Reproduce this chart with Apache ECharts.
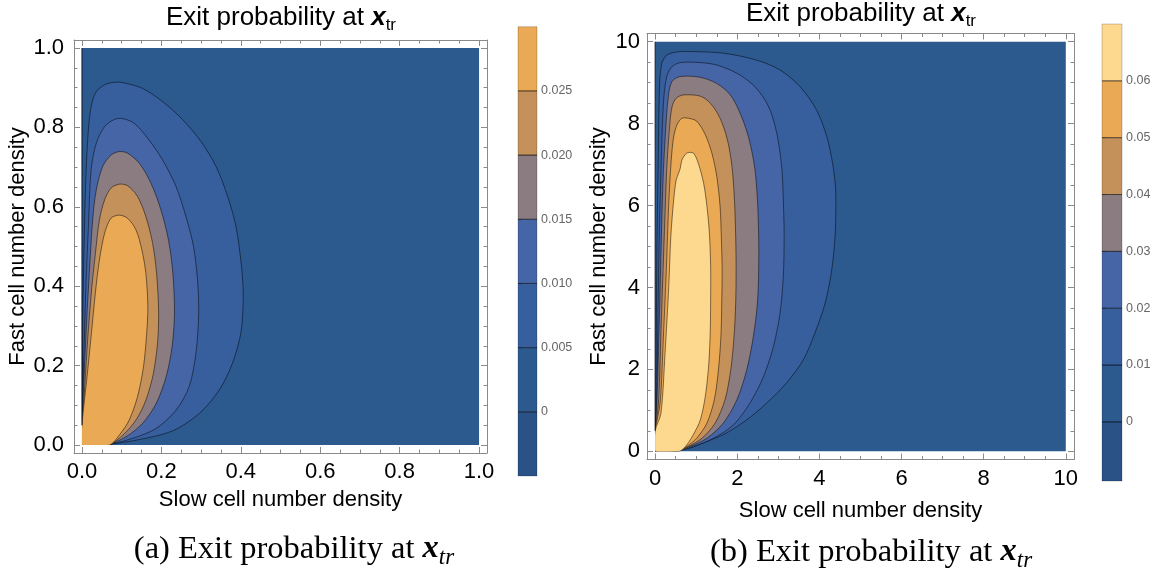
<!DOCTYPE html>
<html>
<head>
<meta charset="utf-8">
<title>Exit probability at x_tr</title>
<script src="https://cdn.jsdelivr.net/npm/echarts@6/dist/echarts.min.js"></script>
<style>
  html, body { margin: 0; padding: 0; background: #fff; }
  #chart { width: 1163px; height: 575px; }
</style>
</head>
<body>
<div id="chart"></div>
<script>
// band colours, lowest band first (below 0, then one per contour step)
const bandColors = ['#2a5287', '#2c5a8f', '#375f9e', '#4565a7', '#8a7c81', '#c4915b', '#eaa955', '#fdd88f'];

// ---- panel (a) ----
const aTicks = [0, 0.2, 0.4, 0.6, 0.8, 1.0];
const aMinor = [0.05, 0.1, 0.15, 0.25, 0.3, 0.35, 0.45, 0.5, 0.55, 0.65, 0.7, 0.75, 0.85, 0.9, 0.95];
const aRange = [-0.02, 1.02];
const aDomain = [0, 1];
const aLevels = [0, 0.005, 0.01, 0.015, 0.02, 0.025];
const aBarRange = [-0.005, 0.030];
// contour curves, outer (0.005) to inner (0.025)
const aC005 = [[0,0],[0.052,0],[0.145,0.014],[0.229,0.036],[0.296,0.080],[0.346,0.139],[0.379,0.206],[0.400,0.281],[0.406,0.357],[0.405,0.41],[0.400,0.466],[0.388,0.550],[0.367,0.626],[0.338,0.701],[0.300,0.764],[0.254,0.819],[0.203,0.865],[0.153,0.898],[0.111,0.911],[0.090,0.914],[0.061,0.909],[0.036,0.890],[0.023,0.852],[0.015,0.777],[0.009,0.651],[0.005,0.483],[0.002,0.315],[0.001,0.147],[0,0.05]];
const aC010 = [[0,0],[0.057,0],[0.128,0.017],[0.187,0.042],[0.237,0.088],[0.270,0.147],[0.287,0.231],[0.294,0.332],[0.291,0.416],[0.281,0.500],[0.262,0.575],[0.237,0.651],[0.203,0.718],[0.166,0.772],[0.132,0.810],[0.103,0.822],[0.082,0.820],[0.057,0.802],[0.036,0.760],[0.023,0.693],[0.017,0.567],[0.010,0.399],[0.005,0.231],[0.001,0.105],[0,0.05]];
const aC015 = [[0,0],[0.061,0],[0.111,0.021],[0.153,0.055],[0.187,0.105],[0.212,0.172],[0.227,0.248],[0.233,0.332],[0.229,0.432],[0.218,0.516],[0.199,0.592],[0.174,0.659],[0.145,0.709],[0.115,0.735],[0.094,0.739],[0.073,0.730],[0.052,0.701],[0.036,0.642],[0.027,0.567],[0.019,0.441],[0.012,0.315],[0.006,0.189],[0,0.05]];
const aC020 = [[0,0],[0.065,0],[0.103,0.025],[0.136,0.063],[0.161,0.113],[0.180,0.181],[0.191,0.264],[0.193,0.340],[0.188,0.432],[0.178,0.508],[0.161,0.575],[0.140,0.626],[0.115,0.653],[0.094,0.657],[0.073,0.647],[0.057,0.617],[0.044,0.567],[0.034,0.483],[0.025,0.399],[0.015,0.273],[0.007,0.147],[0,0.05]];
const aC025 = [[0,0],[0.069,0],[0.094,0.025],[0.119,0.063],[0.140,0.122],[0.155,0.197],[0.163,0.281],[0.166,0.348],[0.161,0.432],[0.151,0.491],[0.136,0.542],[0.115,0.571],[0.094,0.579],[0.073,0.571],[0.057,0.533],[0.044,0.466],[0.034,0.385],[0.023,0.273],[0.012,0.164],[0,0.05]];
const aZeroLine = [[0,0.05],[0,1]];

// ---- panel (b) ----
const bTicks = [0, 2, 4, 6, 8, 10];
const bMinor = [0.5, 1, 1.5, 2.5, 3, 3.5, 4.5, 5, 5.5, 6.5, 7, 7.5, 8.5, 9, 9.5];
const bRange = [-0.2, 10.2];
const bDomain = [0, 10];
const bLevels = [0, 0.01, 0.02, 0.03, 0.04, 0.05, 0.06];
const bBarRange = [-0.0104, 0.070];
// outer (0.01) to inner (0.06)
const bC01 = [[0,0],[0.45,0],[0.53,0.02],[0.85,0.08],[1.26,0.24],[1.74,0.45],[2.23,0.77],[2.72,1.18],[3.20,1.67],[3.61,2.24],[3.89,2.89],[4.14,3.62],[4.30,4.43],[4.38,5.24],[4.40,5.98],[4.39,6.46],[4.32,7.03],[4.18,7.68],[3.93,8.33],[3.53,8.90],[3.04,9.31],[2.47,9.55],[1.66,9.72],[0.85,9.76],[0.53,9.75],[0.28,9.67],[0.16,9.47],[0.105,8.90],[0.073,7.0],[0.04,4.8],[0.024,2.4],[0.01,1.0],[0,0.5]];
const bC02 = [[0,0],[0.49,0],[0.93,0.12],[1.42,0.32],[1.91,0.65],[2.31,1.18],[2.64,1.83],[2.88,2.56],[3.04,3.37],[3.12,4.27],[3.14,5.24],[3.12,6.14],[3.08,6.95],[2.96,7.77],[2.76,8.42],[2.43,8.90],[1.99,9.23],[1.50,9.43],[1.10,9.49],[0.61,9.49],[0.41,9.39],[0.28,9.15],[0.20,8.50],[0.14,6.87],[0.09,4.84],[0.06,2.81],[0.024,0.77],[0,0.5]];
const bC03 = [[0,0],[0.51,0],[0.85,0.12],[1.26,0.32],[1.66,0.69],[1.99,1.26],[2.23,1.99],[2.39,2.80],[2.49,3.62],[2.52,4.43],[2.52,5.24],[2.49,6.14],[2.42,6.95],[2.27,7.68],[2.07,8.25],[1.83,8.70],[1.50,8.98],[1.10,9.13],[0.61,9.15],[0.41,9.03],[0.33,8.74],[0.27,8.09],[0.20,6.87],[0.15,5.24],[0.10,3.21],[0.04,1.18],[0,0.5]];
const bC04 = [[0,0],[0.54,0],[0.81,0.12],[1.14,0.32],[1.46,0.69],[1.70,1.26],[1.84,1.99],[1.92,2.80],[1.96,3.62],[1.97,4.43],[1.96,5.24],[1.93,6.14],[1.87,6.95],[1.76,7.60],[1.58,8.13],[1.35,8.49],[1.10,8.67],[0.69,8.70],[0.51,8.62],[0.41,8.41],[0.35,7.92],[0.28,6.87],[0.22,5.24],[0.15,3.21],[0.08,1.18],[0,0.5]];
const bC05 = [[0,0],[0.57,0],[0.77,0.12],[1.01,0.32],[1.26,0.69],[1.44,1.26],[1.54,1.99],[1.60,2.80],[1.62,3.62],[1.63,4.43],[1.61,5.24],[1.58,5.98],[1.50,6.71],[1.38,7.28],[1.22,7.73],[1.01,8.06],[0.81,8.13],[0.65,8.13],[0.53,7.97],[0.45,7.68],[0.39,7.11],[0.33,6.06],[0.27,4.43],[0.20,2.81],[0.12,1.18],[0,0.5]];
const bC06 = [[0,0],[0.59,0],[0.77,0.16],[0.93,0.41],[1.10,0.77],[1.22,1.34],[1.30,2.07],[1.34,2.89],[1.35,3.70],[1.35,4.51],[1.32,5.32],[1.26,5.98],[1.18,6.54],[1.05,7.03],[0.93,7.28],[0.77,7.28],[0.65,7.11],[0.61,6.91],[0.57,6.79],[0.51,6.62],[0.45,6.14],[0.38,5.24],[0.33,4.02],[0.24,2.40],[0.14,0.93],[0,0.5]];
const bZeroLine = [[0,0.5],[0,10]];

const FONT = '"Liberation Sans", Arial, sans-serif';
const SERIF = '"Liberation Serif", "Times New Roman", serif';
const FRAME = '#8a8a8a';
const LINE = 'rgba(0,0,0,0.62)';

let myChart = echarts.init(document.getElementById('chart'));

// one frame = a grid with bottom/top x axes and left/right y axes
function frameAxes(gi, range, ticks, withLabels, fmt, xName, yName, xGap, yGap, yMargin) {
  const tickLen = withLabels ? 6 : 3.5;
  const base = {
    type: 'value', gridIndex: gi, min: range[0], max: range[1],
    splitLine: { show: false },
    axisLine: { show: withLabels, onZero: false, lineStyle: { color: FRAME, width: 1 } },
    axisTick: { show: true, inside: true, length: tickLen, customValues: ticks, lineStyle: { color: FRAME, width: 1 } },
    axisLabel: { show: false }
  };
  const label = {
    show: withLabels, customValues: ticks, formatter: fmt, margin: 8,
    color: '#000', fontSize: 22, fontFamily: FONT
  };
  const nameStyle = { color: '#000', fontSize: 22, fontFamily: FONT };
  const xs = [
    Object.assign({}, base, { position: 'bottom', axisLabel: label,
      name: withLabels ? xName : '', nameLocation: 'middle', nameGap: xGap, nameTextStyle: nameStyle }),
    Object.assign({}, base, { position: 'top' })
  ];
  const ys = [
    Object.assign({}, base, { position: 'left', axisLabel: Object.assign({}, label, { margin: yMargin || 10 }),
      name: withLabels ? yName : '', nameLocation: 'middle', nameGap: yGap, nameTextStyle: nameStyle }),
    Object.assign({}, base, { position: 'right' })
  ];
  return { xs, ys };
}

function barAxes(gi, range, levels, fmt) {
  return {
    x: { type: 'value', gridIndex: gi, min: 0, max: 1, show: false },
    y: {
      type: 'value', gridIndex: gi, min: range[0], max: range[1], position: 'right',
      splitLine: { show: false },
      axisLine: { show: false },
      axisTick: { show: true, inside: false, length: 4, customValues: levels, lineStyle: { color: '#777' } },
      axisLabel: { show: true, customValues: levels, formatter: fmt, margin: 4, color: '#666', fontSize: 12.5, fontFamily: FONT }
    }
  };
}

const fmt1 = v => v.toFixed(1);
const fmtInt = v => String(Math.round(v));
const fmtA = v => (Math.abs(v) < 1e-9 ? '0' : v.toFixed(3));
const fmtB = v => (Math.abs(v) < 1e-9 ? '0' : v.toFixed(2));

const fa = frameAxes(0, aRange, aTicks, true, fmt1, 'Slow cell number density', 'Fast cell number density', 36, 45, 10);
const fam = frameAxes(1, aRange, aMinor, false);
const fb = frameAxes(2, bRange, bTicks, true, fmtInt, 'Slow cell number density', 'Fast cell number density', 40, 37, 7);
const fbm = frameAxes(3, bRange, bMinor, false);
const ba = barAxes(4, aBarRange, aLevels, fmtA);
const bb = barAxes(5, bBarRange, bLevels, fmtB);

// xAxis indices: 0,1 (a) 2,3 (a minor) 4,5 (b) 6,7 (b minor) 8 (bar a) 9 (bar b)
const xAxes = [].concat(fa.xs, fam.xs, fb.xs, fbm.xs, [ba.x, bb.x]);
const yAxes = [].concat(fa.ys, fam.ys, fb.ys, fbm.ys, [ba.y, bb.y]);

function domainClip(api, domain) {
  const p0 = api.coord([domain[0], domain[0]]);
  const p1 = api.coord([domain[1], domain[1]]);
  return { type: 'rect', shape: { x: p0[0], y: p1[1], width: p1[0] - p0[0], height: p0[1] - p1[1] } };
}

function backgroundSeries(axisIdx, domain) {
  return {
    type: 'custom', xAxisIndex: axisIdx, yAxisIndex: axisIdx, silent: true,
    data: [[domain[0], domain[0]]],
    renderItem: function (params, api) {
      const c = domainClip(api, domain);
      return { type: 'rect', shape: c.shape, style: { fill: bandColors[1] } };
    }
  };
}

function contourSeries(axisIdx, curves, fills, domain) {
  return {
    type: 'custom', xAxisIndex: axisIdx, yAxisIndex: axisIdx, silent: true,
    data: curves.map(c => c[0]),
    renderItem: function (params, api) {
      const pts = curves[params.dataIndex].map(p => api.coord(p));
      return {
        type: 'polygon',
        shape: { points: pts, smooth: 0.3 },
        style: { fill: fills[params.dataIndex], stroke: LINE, lineWidth: 0.8 },
        clipPath: domainClip(api, domain)
      };
    }
  };
}

function colorbarSeries(axisIdx, levels, range, colors) {
  const edges = [range[0]].concat(levels, [range[1]]);
  const bands = [];
  for (let i = 0; i < edges.length - 1; i++) bands.push([0, edges[i], edges[i + 1], i]);
  return {
    type: 'custom', xAxisIndex: axisIdx, yAxisIndex: axisIdx, silent: true,
    data: bands,
    renderItem: function (params, api) {
      const b = bands[params.dataIndex];
      const top = api.coord([0, b[2]]);
      const bot = api.coord([1, b[1]]);
      const children = [{
        type: 'rect',
        shape: { x: top[0], y: top[1], width: bot[0] - top[0], height: bot[1] - top[1] },
        style: { fill: colors[b[3]], stroke: 'rgba(0,0,0,0.25)', lineWidth: 0.8 }
      }];
      if (b[3] > 0) {
        children.push({
          type: 'line',
          shape: { x1: top[0], y1: bot[1], x2: bot[0], y2: bot[1] },
          style: { stroke: 'rgba(0,0,0,0.5)', lineWidth: 1 }
        });
      }
      return { type: 'group', children: children };
    }
  };
}

function zeroLineSeries(axisIdx, pts) {
  return {
    type: 'line', xAxisIndex: axisIdx, yAxisIndex: axisIdx, silent: true,
    data: pts, symbol: 'none', lineStyle: { color: 'rgba(10,20,40,0.7)', width: 1.4 }
  };
}

function titleText(x, y) {
  return {
    type: 'text', x: x, y: y, silent: true,
    style: {
      text: '{t|Exit probability at }{x|x}{s|tr}',
      align: 'center', verticalAlign: 'middle',
      rich: {
        t: { fontSize: 26, fontFamily: FONT, fill: '#000', lineHeight: 32 },
        x: { fontSize: 26, fontFamily: FONT, fontWeight: 'bold', fontStyle: 'italic', fill: '#000', lineHeight: 32 },
        s: { fontSize: 17, fontFamily: FONT, fill: '#000', lineHeight: 17, verticalAlign: 'bottom' }
      }
    }
  };
}

function captionText(x, y, tag) {
  return {
    type: 'text', x: x, y: y, silent: true,
    style: {
      text: '{t|' + tag + ' Exit probability at }{x|x}{s|tr}',
      align: 'center', verticalAlign: 'middle',
      rich: {
        t: { fontSize: 32.5, fontFamily: SERIF, fill: '#000', lineHeight: 40 },
        x: { fontSize: 32.5, fontFamily: SERIF, fontWeight: 'bold', fontStyle: 'italic', fill: '#000', lineHeight: 40 },
        s: { fontSize: 23, fontFamily: SERIF, fontStyle: 'italic', fill: '#000', lineHeight: 23, verticalAlign: 'bottom' }
      }
    }
  };
}

const aRect = { left: 74, top: 40, width: 413, height: 413 };
const bRect = { left: 647, top: 33.5, width: 427, height: 426 };

let option = {
  animation: false,
  backgroundColor: '#fff',
  grid: [
    aRect, aRect, bRect, bRect,
    { left: 518, top: 26.7, width: 19, height: 449.3 },
    { left: 1102, top: 24, width: 20, height: 457 }
  ],
  xAxis: xAxes,
  yAxis: yAxes,
  series: [
    backgroundSeries(0, aDomain),
    contourSeries(0, [aC005, aC010, aC015, aC020, aC025], bandColors.slice(2, 7), aDomain),
    zeroLineSeries(0, aZeroLine),
    backgroundSeries(4, bDomain),
    contourSeries(4, [bC01, bC02, bC03, bC04, bC05, bC06], bandColors.slice(2, 8), bDomain),
    zeroLineSeries(4, bZeroLine),
    colorbarSeries(8, aLevels, aBarRange, bandColors.slice(0, 7)),
    colorbarSeries(9, bLevels, bBarRange, bandColors)
  ],
  graphic: [
    titleText(281, 18),
    titleText(861, 14),
    captionText(294, 549, '(a)'),
    captionText(871, 552, '(b)')
  ]
};

myChart.setOption(option);
window.addEventListener('resize', function () { myChart.resize(); });
</script>
</body>
</html>
